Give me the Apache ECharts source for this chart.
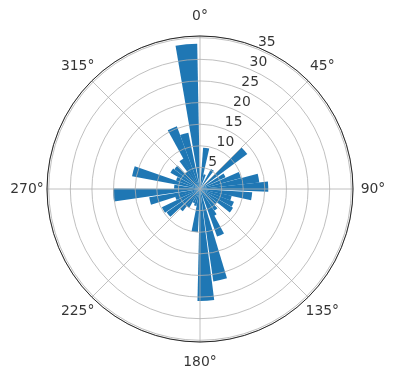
<!DOCTYPE html>
<html><head><meta charset="utf-8">
<script src="https://cdn.jsdelivr.net/npm/echarts@6/dist/echarts.min.js"></script>
<style>html,body{margin:0;padding:0;background:#fff}#c{width:396px;height:380px}</style>
</head><body><div id="c"></div>
<script>
// bar centre directions (degrees, clockwise from north) and bar lengths
const barAngles = [0, 8.6, 18, 33, 49.3, 61, 70.7, 79.5, 88, 98, 106.5, 115, 124, 133, 142, 151, 156, 167.5, 177, 187, 196, 205, 214, 222, 231, 240, 249, 256.5, 266, 275, 285, 294, 303, 312, 320, 328, 335.5, 344, 354.6];
const barValues = [0.8, 9.6, 3.5, 5.3, 13.6, 6.5, 9.8, 13.8, 15.8, 12.1, 7.5, 8.4, 8.8, 5, 6, 7, 11.7, 21.6, 25.9, 10, 4, 3.5, 5, 6.5, 9.4, 9.8, 6, 11.9, 20.1, 6, 16, 5.9, 7.8, 7.5, 5, 8, 15.5, 13.3, 33.6];
const angleTicks = [0, 45, 90, 135, 180, 225, 270, 315];
const radiusTicks = [5, 10, 15, 20, 25, 30, 35];

const R_MAX = 35.4;
const BAR_WIDTH = 8.6;
const FONT = 'DejaVu Sans';
const LABEL_R = R_MAX * 173 / 153;

const chart = echarts.init(document.getElementById('c'), null, {renderer: 'canvas'});
chart.setOption({
  backgroundColor: '#fff',
  animation: false,
  polar: {center: [200, 189], radius: 153},
  angleAxis: {
    type: 'value', min: 0, max: 360, interval: 45, startAngle: 90, clockwise: true, z: 11,
    axisLine: {lineStyle: {color: '#000', width: 0.8}},
    axisTick: {show: false}, axisLabel: {show: false},
    splitLine: {show: true, lineStyle: {color: '#b0b0b0', width: 0.8}}
  },
  radiusAxis: {
    type: 'value', min: 0, max: R_MAX, interval: 5, z: 10,
    axisLine: {show: false}, axisTick: {show: false}, axisLabel: {show: false},
    splitLine: {show: true, lineStyle: {color: '#b0b0b0', width: 0.8}}
  },
  series: [
    {
      type: 'custom', coordinateSystem: 'polar', z: 2,
      data: barAngles.map((a, i) => [barValues[i], a]),
      renderItem: function (params, api) {
        const v = api.value(0), a = api.value(1);
        const p1 = api.coord([v, a - BAR_WIDTH / 2]);
        const p2 = api.coord([v, a + BAR_WIDTH / 2]);
        const cs = params.coordSys;
        return {
          type: 'sector',
          shape: {cx: cs.cx, cy: cs.cy, r0: 0, r: p1[2], startAngle: -p1[3], endAngle: -p2[3], clockwise: true},
          style: {fill: '#1f77b4'}
        };
      }
    },
    {
      type: 'scatter', coordinateSystem: 'polar', clip: false, z: 20, silent: true,
      symbolSize: 1, itemStyle: {color: 'rgba(0,0,0,0)'},
      data: angleTicks.map(a => [LABEL_R, a]),
      label: {show: true, position: 'inside', color: '#000', fontFamily: FONT, fontSize: 13.9,
        formatter: p => p.value[1] + '°'}
    },
    {
      type: 'scatter', coordinateSystem: 'polar', clip: false, z: 20, silent: true,
      symbolSize: 1, itemStyle: {color: 'rgba(0,0,0,0)'},
      data: radiusTicks.map(r => [r, 22.5]),
      label: {show: true, position: [0.5, 0.5], align: 'left', verticalAlign: 'bottom', color: '#000',
        fontFamily: FONT, fontSize: 13.9, formatter: p => String(p.value[0])}
    }
  ]
});
</script></body></html>
